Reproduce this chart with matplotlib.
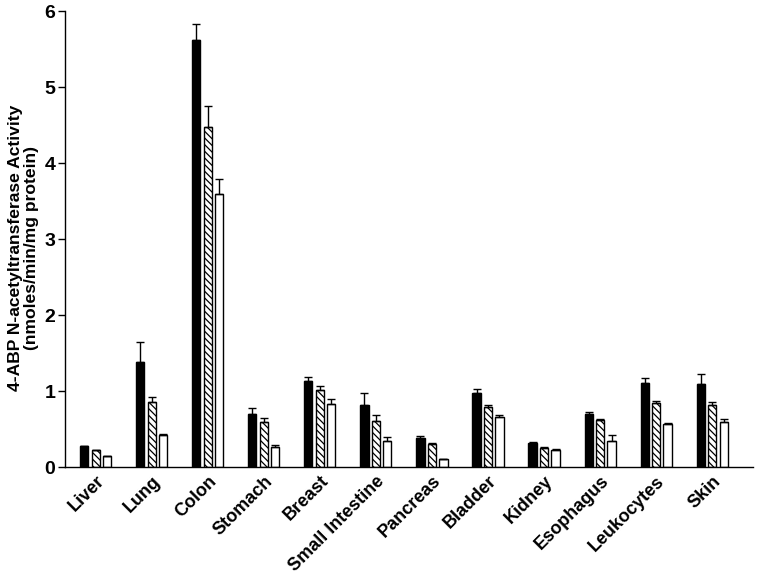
import matplotlib
matplotlib.use("Agg")
import matplotlib.pyplot as plt
import numpy as np

categories = ["Liver", "Lung", "Colon", "Stomach", "Breast", "Small Intestine",
              "Pancreas", "Bladder", "Kidney", "Esophagus", "Leukocytes", "Skin"]
series1 = [0.27, 1.38, 5.62, 0.70, 1.13, 0.82, 0.38, 0.98, 0.31, 0.70, 1.11, 1.09]
series1_err = [0.01, 0.26, 0.21, 0.07, 0.06, 0.15, 0.03, 0.05, 0.02, 0.02, 0.06, 0.13]
series2 = [0.22, 0.86, 4.47, 0.59, 1.01, 0.61, 0.30, 0.79, 0.25, 0.62, 0.84, 0.82]
series2_err = [0.01, 0.06, 0.28, 0.05, 0.06, 0.07, 0.01, 0.02, 0.01, 0.01, 0.03, 0.03]
series3 = [0.14, 0.42, 3.59, 0.26, 0.83, 0.34, 0.10, 0.66, 0.23, 0.34, 0.56, 0.59]
series3_err = [0.01, 0.02, 0.20, 0.03, 0.06, 0.05, 0.01, 0.03, 0.01, 0.08, 0.02, 0.04]
yticks = [0, 1, 2, 3, 4, 5, 6]
ylabel = "4-ABP N-acetyltransferase Activity\n(nmoles/min/mg protein)"

plt.rcParams['font.family'] = ['Liberation Sans', 'DejaVu Sans']
plt.rcParams['font.weight'] = 'bold'
plt.rcParams['hatch.linewidth'] = 0.9

fig = plt.figure(figsize=(7.57, 5.75), dpi=100)
ax = fig.add_axes([65/757, 1-467/575, (753-65)/757, (467-11)/575])

x = np.arange(len(categories))
w = 0.145
step = 0.205
ekw = dict(elinewidth=1.0, capthick=1.0, ecolor='black')
ax.bar(x - step, series1, w, color='black', edgecolor='black', linewidth=1.0,
       yerr=[np.zeros(len(x)), series1_err], capsize=3, error_kw=ekw)
ax.bar(x, series2, w, color='white', edgecolor='black', hatch='\\\\\\\\\\', linewidth=1.0,
       yerr=[np.zeros(len(x)), series2_err], capsize=3, error_kw=ekw)
ax.bar(x + step, series3, w, color='white', edgecolor='black', linewidth=1.0,
       yerr=[np.zeros(len(x)), series3_err], capsize=3, error_kw=ekw)

ax.set_xlim(-0.55, 11.73)
ax.set_ylim(0, 6)
ax.set_yticks(yticks)
ax.set_yticklabels([str(t) for t in yticks], fontsize=14, fontweight='bold')
ax.set_xticks(x)
ax.set_xticklabels(categories, rotation=45, ha='right', rotation_mode='anchor',
                   fontsize=13, fontweight='bold')
ax.tick_params(axis='x', length=0, pad=4)
ax.tick_params(axis='y', length=5, width=1, pad=2)
ax.spines['top'].set_visible(False)
ax.spines['right'].set_visible(False)
ax.spines['left'].set_linewidth(1)
ax.spines['bottom'].set_linewidth(1)
ax.set_ylabel(ylabel, fontsize=12.6, fontweight='bold', linespacing=1.1)
ax.yaxis.set_label_coords(-0.038, 0.48)

fig.savefig("out.png", dpi=100)
